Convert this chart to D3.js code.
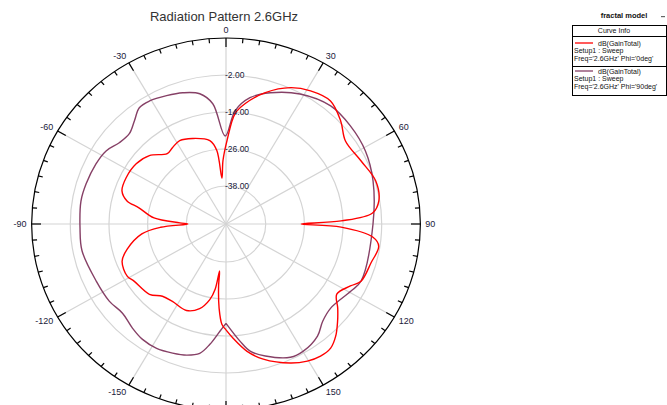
<!DOCTYPE html>
<html>
<head>
<meta charset="utf-8">
<script src="https://cdn.jsdelivr.net/npm/d3@7"></script>
<style>
  html, body { margin: 0; padding: 0; background: #fff; }
  svg { display: block; font-family: "Liberation Sans", Arial, sans-serif; }
</style>
</head>
<body>
<svg id="chart" width="667" height="405"></svg>
<script>
// Gain pattern samples, theta in degrees (-180..180), gain in dB
const phi0Theta = [-180, -177.8, -175.5, -173.5, -172.5, -171, -168.4, -163.4, -156.4, -146.5, -139.9, -133.8,
  -123, -118.9, -110.5, -104.9, -97, -93, -90, -88.5, -85, -79, -76.3, -71.6, -64.2, -55, -47, -38.6,
  -33.9, -28, -20.5, -10.5, -6.8, -4.9, -2.6, 0.7, 4.5, 8.7, 16, 24.3, 31.3, 39.1, 46.8, 54, 63.9,
  73.3, 81, 85.5, 88.4, 90, 91.6, 95.3, 98.6, 105.7, 113.9, 117.5, 123.5, 128.2, 132.3, 136.9, 141.1,
  145.6, 150.4, 156.1, 165.2, 171, 176.6, 180];
const phi0Gain = [-16, -17.7, -23, -30, -35, -29, -25.3, -21.7, -19.7, -20.2, -19.7, -17.4,
  -16.3, -15.3, -15.9, -18.6, -24, -30, -38.5, -36, -27.9, -22.8, -18.7, -16.3, -15.9, -16.3, -17.8, -21.1,
  -20.5, -19.7, -20.7, -22.8, -26.3, -35.4, -29.7, -23.2, -14.4, -10.8, -6, -1.8, 0.2, 1.1, -1.5, -4.5, -3.7,
  -1.8, -2.3, -4.7, -14.6, -27, -14.6, -4.6, -2.4, -3.6, -4.5, -6.8, -9.1, -6.2, -3.5, -0.5, 1.4,
  1.6, 0.8, -1.0, -5.0, -8.5, -13.2, -16];

const phi90Theta = [-180, -176.9, -172.7, -169, -164, -158.4, -151.9, -145.3, -139.3, -132, -124.6, -114.7,
  -101, -91.6, -80.6, -73.3, -64.2, -57.5, -51.5, -45.7, -40.3, -35.5, -30.7, -23.9, -17.5, -10.9, -6,
  -0.5, 4.4, 10.3, 17.9, 28.6, 40.3, 50.5, 61.3, 73, 90, 113.8, 119.4, 130, 136.4, 142, 149.8, 155.2,
  164.1, 169.7, 173.4, 180];
const phi90Gain = [-18.1, -15.5, -11, -7.6, -6.1, -5.3, -4.6, -4.8, -5.8, -7.1, -6.3, -6.0,
  -4.8, -5.0, -4.7, -5.0, -5.5, -6.2, -8.0, -8.4, -6.4, -4.0, -3.9, -4.8, -5.7, -7.3, -11.1,
  -21.8, -13.5, -8.7, -5.6, -2.3, -0.1, -0.3, -1.0, -2.6, -4.7, -4.5, -5.9, -7.9, -6.8, -4.2, -2.6, -2.7,
  -5.8, -8.4, -12, -18.1];

// Radial grid (dB) and angular labels
const ringValues = [-38, -26, -14, -2];
const ringLabels = ["-38.00", "-26.00", "-14.00", "-2.00"];
const angleLabels = [0, 30, 60, 90, 120, 150, -150, -120, -90, -60, -30];

const title = "Radiation Pattern 2.6GHz";
const legendTitle = "fractal model";
const seriesNames = ["dB(GainTotal)", "dB(GainTotal)"];
const seriesSetup = ["Setup1 : Sweep", "Setup1 : Sweep"];
const seriesFreq = ["Freq='2.6GHz' Phi='0deg'", "Freq='2.6GHz' Phi='90deg'"];
const seriesColors = ["#ff0000", "#864066"];

const svg = d3.select("#chart");
const cx = 226, cy = 224;
const kx = 1.045;           // horizontal stretch of the plot
const R = 186;

const r = d3.scaleLinear().domain([-50, 10]).range([1, R]);
const toRad = d => d * Math.PI / 180;
const px = (deg, rad) => cx + kx * rad * Math.sin(toRad(deg));
const py = (deg, rad) => cy - rad * Math.cos(toRad(deg));

// title
svg.append("text").attr("x", 224).attr("y", 21).attr("text-anchor", "middle")
  .attr("font-size", 13).attr("fill", "#333").text(title);

const g = svg.append("g");

// grid rings
g.selectAll("ellipse.ring").data(ringValues).join("ellipse")
  .attr("cx", cx).attr("cy", cy)
  .attr("rx", d => kx * r(d)).attr("ry", d => r(d))
  .attr("fill", "none").attr("stroke", "#d4d4d4").attr("stroke-width", 1.2);

// radial spokes every 30 degrees
g.selectAll("line.spoke").data(d3.range(0, 360, 30)).join("line")
  .attr("x1", cx).attr("y1", cy)
  .attr("x2", d => px(d, R)).attr("y2", d => py(d, R))
  .attr("stroke", "#d4d4d4").attr("stroke-width", 1.2);

// outer circle
g.append("ellipse").attr("cx", cx).attr("cy", cy)
  .attr("rx", kx * R).attr("ry", R)
  .attr("fill", "none").attr("stroke", "#000").attr("stroke-width", 1.2);

// ticks every 5 degrees, longer every 30
g.selectAll("line.tick").data(d3.range(0, 360, 5)).join("line")
  .attr("x1", d => px(d, R)).attr("y1", d => py(d, R))
  .attr("x2", d => px(d, R - (d % 30 === 0 ? 9 : 4.5)))
  .attr("y2", d => py(d, R - (d % 30 === 0 ? 9 : 4.5)))
  .attr("stroke", "#000").attr("stroke-width", 1.2);

// angle labels
g.selectAll("text.ang").data(angleLabels).join("text")
  .attr("x", d => cx + (kx * R + 5) * Math.sin(toRad(d)))
  .attr("y", d => cy - (R + 8) * Math.cos(toRad(d)) + 3)
  .attr("text-anchor", d => d === 0 ? "middle" : (d > 0 ? "start" : "end"))
  .attr("font-size", 9).attr("fill", "#1a1a3a").text(d => d);

// curves
const line = d3.line()
  .x(d => px(d[0], r(d[1])))
  .y(d => py(d[0], r(d[1])))
  .curve(d3.curveCatmullRom.alpha(0.5));

const series = [d3.zip(phi0Theta, phi0Gain), d3.zip(phi90Theta, phi90Gain)];
g.selectAll("path.curve").data([series[1], series[0]]).join("path")
  .attr("d", line)
  .attr("fill", "none")
  .attr("stroke", (d, i) => i === 0 ? seriesColors[1] : seriesColors[0])
  .attr("stroke-width", 1.4);

// ring labels
g.selectAll("text.ring").data(ringValues).join("text")
  .attr("x", cx - 1).attr("y", d => cy - r(d) + 3)
  .attr("font-size", 8.5).attr("fill", "#1a1a3a")
  .text((d, i) => ringLabels[i]);

// legend
const lg = svg.append("g").attr("font-size", 7).attr("fill", "#111");
lg.append("text").attr("x", 624).attr("y", 18).attr("text-anchor", "middle")
  .attr("font-weight", "bold").attr("font-size", 7.5).text(legendTitle);
lg.append("rect").attr("x", 661).attr("y", 16).attr("width", 4).attr("height", 1.2).attr("fill", "#666");
lg.append("rect").attr("x", 572.5).attr("y", 25.5).attr("width", 94).attr("height", 70)
  .attr("fill", "#fff").attr("stroke", "#000").attr("stroke-width", 1);
lg.append("text").attr("x", 614).attr("y", 33).attr("text-anchor", "middle").text("Curve Info");
lg.append("line").attr("x1", 572.5).attr("x2", 666.5).attr("y1", 36.5).attr("y2", 36.5).attr("stroke", "#000");
lg.append("line").attr("x1", 572.5).attr("x2", 666.5).attr("y1", 66.5).attr("y2", 66.5).attr("stroke", "#000");
[0, 1].forEach(i => {
  const y0 = 43 + i * 28;
  lg.append("line").attr("x1", 575).attr("x2", 593).attr("y1", y0).attr("y2", y0)
    .attr("stroke", seriesColors[i]).attr("stroke-width", 1.3);
  lg.append("text").attr("x", 598).attr("y", y0 + 2.5).text(seriesNames[i]);
  lg.append("text").attr("x", 574).attr("y", y0 + 10).text(seriesSetup[i]);
  lg.append("text").attr("x", 574).attr("y", y0 + 17.5).text(seriesFreq[i]);
});
</script>
</body>
</html>
